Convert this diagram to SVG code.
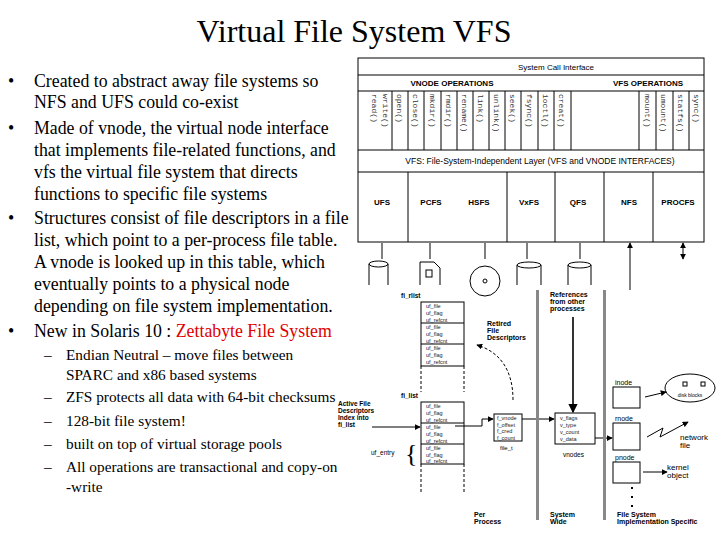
<svg xmlns="http://www.w3.org/2000/svg" width="720" height="540" viewBox="0 0 720 540">
<style>
.t{font-family:"Liberation Serif",serif;font-size:17.8px;fill:#000}
.s{font-family:"Liberation Serif",serif;font-size:15.3px;fill:#000}
.d{font-family:"Liberation Sans",Arial,sans-serif;fill:#000}
.b{font-weight:bold}
.v{font-family:"Liberation Mono",monospace;font-size:8px;fill:#333}
.ln{stroke:#000;stroke-width:1;fill:none}
.dash{stroke:#000;stroke-width:1;stroke-dasharray:3,2;fill:none}
.tb{font-family:"Liberation Sans",Arial,sans-serif;font-size:5.5px;fill:#222}
</style>
<defs>
<marker id="a" viewBox="0 0 8 8" refX="7" refY="4" markerWidth="6" markerHeight="6" orient="auto"><path d="M0,0L8,4L0,8z" fill="#000"/></marker>
</defs>
<rect width="720" height="540" fill="#fff"/>
<text x="354" y="42" text-anchor="middle" style="font-family:'Liberation Serif',serif;font-size:32px">Virtual File System VFS</text>
<g id="text">
<text class="t" x="8" y="87">•</text><text class="t" x="8" y="134">•</text><text class="t" x="8" y="224">•</text><text class="t" x="8" y="337">•</text>
<text class="t" x="34" y="87">Created to abstract away file systems so</text>
<text class="t" x="34" y="108">NFS and UFS could co-exist</text>
<text class="t" x="34" y="134">Made of vnode, the virtual node interface</text>
<text class="t" x="34" y="156">that implements file-related functions, and</text>
<text class="t" x="34" y="178">vfs the virtual file system that directs</text>
<text class="t" x="34" y="200">functions to specific file systems</text>
<text class="t" x="34" y="224">Structures consist of file descriptors in a file</text>
<text class="t" x="34" y="246">list, which point to a per-process file table.</text>
<text class="t" x="34" y="268">A vnode is looked up in this table, which</text>
<text class="t" x="34" y="290">eventually points to a physical node</text>
<text class="t" x="34" y="312">depending on file system implementation.</text>
<text class="t" x="34" y="337">New in Solaris 10 : <tspan fill="#e00000">Zettabyte File System</tspan></text>
<text class="s" x="44" y="360">–</text><text class="s" x="66" y="360">Endian Neutral – move files between</text>
<text class="s" x="66" y="380">SPARC and x86 based systems</text>
<text class="s" x="44" y="402">–</text><text class="s" x="66" y="402">ZFS protects all data with 64-bit checksums</text>
<text class="s" x="44" y="426">–</text><text class="s" x="66" y="426">128-bit file system!</text>
<text class="s" x="44" y="449">–</text><text class="s" x="66" y="449">built on top of virtual storage pools</text>
<text class="s" x="44" y="472">–</text><text class="s" x="66" y="472">All operations are transactional and copy-on</text>
<text class="s" x="66" y="492">-write</text>
</g>
<rect x="338" y="290" width="382" height="250" fill="#fff"/>
<rect x="356" y="55" width="364" height="236" fill="#fff"/>
<g id="vfs-stack">
<rect x="358" y="58" width="346" height="184" class="ln"/>
<path class="ln" d="M358,75H704M358,91H704M358,150H704M358,172H704"/>
<path class="ln" d="M392,91V150M408,91V150M424,91V150M441,91V150M457,91V150M473,91V150M489,91V150M505,91V150M521,91V150M538,91V150M554,91V150M571,91V150M639,91V150M656,91V150M673,91V150M689,91V150"/>
<path class="ln" d="M408,172V242M507,172V242M555,172V242M604,172V242M653,172V242"/>
<text class="d" x="556" y="70" font-size="8" text-anchor="middle">System Call Interface</text>
<text class="d b" x="452" y="86" font-size="8" text-anchor="middle">VNODE OPERATIONS</text>
<text class="d b" x="648" y="86" font-size="8" text-anchor="middle">VFS OPERATIONS</text>
<g class="v">
<text transform="translate(372,94) rotate(90)">read()</text>
<text transform="translate(383,94) rotate(90)">write()</text>
<text transform="translate(397,94) rotate(90)">open()</text>
<text transform="translate(413,94) rotate(90)">close()</text>
<text transform="translate(430,94) rotate(90)">mkdir()</text>
<text transform="translate(446,94) rotate(90)">rmdir()</text>
<text transform="translate(462,94) rotate(90)">rename()</text>
<text transform="translate(478,94) rotate(90)">link()</text>
<text transform="translate(494,94) rotate(90)">unlink()</text>
<text transform="translate(510,94) rotate(90)">seek()</text>
<text transform="translate(527,94) rotate(90)">fsync()</text>
<text transform="translate(543,94) rotate(90)">ioctl()</text>
<text transform="translate(559,94) rotate(90)">creat()</text>
<text transform="translate(645,94) rotate(90)">mount()</text>
<text transform="translate(661,94) rotate(90)">umount()</text>
<text transform="translate(678,94) rotate(90)">statfs()</text>
<text transform="translate(694,94) rotate(90)">sync()</text>
</g>
<text class="d" x="540" y="164" font-size="8.5" text-anchor="middle">VFS: File-System-Independent Layer (VFS and VNODE  INTERFACES)</text>
<g class="d b" font-size="8" text-anchor="middle">
<text x="382" y="205">UFS</text><text x="431" y="205">PCFS</text><text x="479" y="205">HSFS</text><text x="529" y="205">VxFS</text><text x="578" y="205">QFS</text><text x="629" y="205">NFS</text><text x="678" y="205">PROCFS</text>
</g>
</g>
<g id="connectors">
<path class="ln" marker-end="url(#a)" d="M382,250V243M430,250V243M485,250V243M527,250V243M580,250V243M683,250V243"/>
<path class="ln" marker-end="url(#a)" d="M382,250V259M430,250V259M485,250V259M527,250V259M580,250V259M683,250V259"/>
<path class="ln" marker-end="url(#a)" d="M630,290V243"/>
<path class="ln" marker-end="url(#a)" d="M372,427H420"/>
<path class="ln" marker-end="url(#a)" d="M455,426H482V419H493"/>
<path class="dash" marker-end="url(#a)" d="M513,400C513,370 500,352 477,345"/>
<path stroke="#000" stroke-width="1.6" fill="none" marker-end="url(#a)" d="M573,317V412"/>
<path class="ln" marker-end="url(#a)" d="M522,419H554"/>
<path class="ln" marker-end="url(#a)" d="M595,438H612"/>
<path class="ln" marker-end="url(#a)" d="M645,397L666,392"/>
<path class="ln" marker-end="url(#a)" d="M647,437L663,428L660,437L688,422"/>
<path class="ln" marker-end="url(#a)" d="M643,472H667"/>
</g>
<g id="devices" class="ln">
<path d="M369,264V285M388,264V285"/><ellipse cx="378.5" cy="264" rx="9.5" ry="3"/>
<path d="M420,262H434L440,268V285M420,262V285"/><rect x="426" y="270" width="6" height="7"/>
<circle cx="485" cy="281" r="15"/><circle cx="485" cy="281" r="2"/>
<path d="M517,265V285M541,265V285"/><ellipse cx="529" cy="265" rx="12" ry="3"/>
<path d="M568,265V285M591,265V285"/><ellipse cx="579.5" cy="265" rx="11.5" ry="3"/>
</g>
<g id="fi-rlist">
<text class="d b" x="401" y="298" font-size="6.5">fi_rlist</text>
<rect x="421" y="302" width="43" height="64" class="ln"/>
<path class="ln" d="M421,323H464M421,344H464"/>
<path class="dash" d="M421,366V392M464,366V392"/>
<g class="tb"><text x="426" y="308">uf_file</text><text x="426" y="315">uf_flag</text><text x="426" y="322">uf_refcnt</text><text x="426" y="329">uf_file</text><text x="426" y="336">uf_flag</text><text x="426" y="343">uf_refcnt</text><text x="426" y="350">uf_file</text><text x="426" y="357">uf_flag</text><text x="426" y="364">uf_refcnt</text></g>
</g>
<g id="fi-list">
<text class="d b" x="401" y="398" font-size="6.5">fi_list</text>
<rect x="421" y="402" width="43" height="62" class="ln"/>
<path class="ln" d="M421,423H464M421,444H464"/>
<path class="dash" d="M421,464V493M464,464V493"/>
<g class="tb"><text x="426" y="408">uf_file</text><text x="426" y="415">uf_flag</text><text x="426" y="422">uf_refcnt</text><text x="426" y="429">uf_file</text><text x="426" y="436">uf_flag</text><text x="426" y="443">uf_refcnt</text><text x="426" y="450">uf_file</text><text x="426" y="457">uf_flag</text><text x="426" y="463">uf_refcnt</text></g>
<text x="405" y="462" style="font-family:'Liberation Serif',serif;font-size:26px">{</text>
<text class="d" x="371" y="455" font-size="6.5">uf_entry</text>
<g class="d b" font-size="6.5"><text x="338" y="406">Active File</text><text x="338" y="413">Descriptors</text><text x="338" y="420">Index into</text><text x="338" y="427">fi_list</text></g>
</g>
<g id="file-t">
<rect x="494" y="414" width="28" height="27" class="ln"/>
<g class="tb"><text x="497" y="420">f_vnode</text><text x="497" y="427">f_offset</text><text x="497" y="433">f_cred</text><text x="497" y="440">f_count</text></g>
<text class="d" x="500" y="450" font-size="6">file_t</text>
<g class="d b" font-size="7"><text x="487" y="326">Retired</text><text x="487" y="333">File</text><text x="487" y="340">Descriptors</text></g>
</g>
<rect x="536" y="290" width="3" height="230" fill="#888"/>
<rect x="603" y="290" width="3" height="230" fill="#888"/>
<g id="vnode">
<g class="d b" font-size="7"><text x="550" y="297">References</text><text x="550" y="304">from other</text><text x="550" y="311">processes</text></g>
<rect x="555" y="413" width="40" height="31" class="ln"/>
<g class="tb"><text x="560" y="420">v_flags</text><text x="560" y="427">v_type</text><text x="560" y="434">v_count</text><text x="560" y="441">v_data</text></g>
<text class="d" x="563" y="457" font-size="6.5">vnodes</text>
</g>
<g id="nodes-fs">
<text class="d" x="615" y="385" font-size="7">inode</text><rect x="613" y="387" width="27" height="21" class="ln"/>
<text class="d" x="615" y="421" font-size="7">rnode</text><rect x="613" y="423" width="27" height="27" class="ln"/>
<text class="d" x="615" y="460" font-size="7">pnode</text><rect x="613" y="462" width="27" height="21" class="ln"/>
<ellipse cx="690" cy="388" rx="25" ry="14" class="ln"/>
<rect x="683" y="382" width="4" height="4" class="ln"/><rect x="701" y="382" width="4" height="4" class="ln"/>
<text class="d" x="690" y="397" font-size="5" text-anchor="middle">disk blocks</text>
<g class="d" font-size="8"><text x="680" y="440">network</text><text x="680" y="448">file</text><text x="667" y="470">kernel</text><text x="667" y="478">object</text></g>
<g fill="#000"><rect x="631" y="487" width="2" height="2"/><rect x="631" y="496" width="2" height="2"/><rect x="631" y="505" width="2" height="2"/></g>
</g>
<g class="d b" font-size="7">
<text x="474" y="517">Per</text><text x="474" y="524">Process</text>
<text x="550" y="517">System</text><text x="550" y="524">Wide</text>
<text x="617" y="517">File System</text><text x="617" y="524">Implementation Specific</text>
</g>
</svg>
